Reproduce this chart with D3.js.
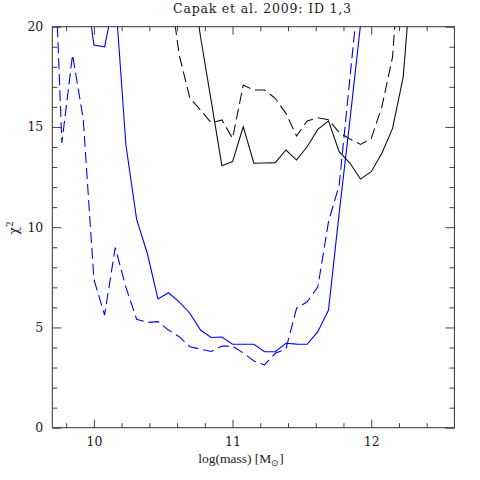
<!DOCTYPE html>
<html>
<head>
<meta charset="utf-8">
<script src="https://cdn.jsdelivr.net/npm/d3@7"></script>
<style>
  html, body { margin: 0; padding: 0; background: #fff; }
  svg { display: block; }
  text { font-family: "DejaVu Serif", "Liberation Serif", serif; fill: #222; }
</style>
</head>
<body>
<svg id="chart" width="480" height="480"></svg>
<script>
// log(mass) grid shared by all four curves
var massGrid = [9.692, 9.769, 9.846, 9.923, 10.0, 10.077, 10.154, 10.231, 10.308, 10.385,
  10.462, 10.538, 10.615, 10.692, 10.769, 10.846, 10.923, 11.0, 11.077, 11.154,
  11.231, 11.308, 11.385, 11.462, 11.538, 11.615, 11.692, 11.769, 11.846, 11.923,
  12.0, 12.077, 12.154, 12.231, 12.308];

var chi2BlueSolid = [35, 30, 26, 23, 19.09, 19.0, 21.6, 14.1, 10.4, 8.7,
  6.42, 6.73, 6.28, 5.71, 4.87, 4.5, 4.52, 4.16, 4.16, 4.16,
  3.79, 3.79, 4.21, 4.17, 4.16, 4.79, 5.87, 10.7, 15.3, 20.1,
  25, null, null, null, null];

var chi2BlueDashed = [28, 14.2, 18.6, 15.4, 7.4, 5.62, 8.98, 7.0, 5.41, 5.25,
  5.29, 4.87, 4.54, 4.04, 3.92, 3.8, 4.07, 4.07, 3.73, 3.33,
  3.13, 3.71, 3.93, 5.96, 6.28, 7.02, 10.27, 12.1, 17.4, 22.7,
  null, null, null, null, null];

var chi2BlackSolid = [null, null, null, null, null, null, null, null, null, null,
  null, null, null, 23.2, 19.5, 16.3, 13.07, 13.27, 15.01, 13.19,
  13.2, 13.22, 13.85, 13.35, 14.01, 14.88, 15.3, 13.77, 13.2, 12.4,
  12.77, 13.69, 14.93, 17.5, 24.2];

var chi2BlackDashed = [null, null, null, null, null, null, null, null, null, null,
  null, 22.5, 18.6, 16.44, 15.85, 15.2, 15.35, 14.43, 17.09, 16.84,
  16.84, 16.43, 15.68, 14.55, 15.3, 15.46, 15.36, 14.72, 14.4, 14.13,
  14.42, 16.01, 18.49, 26, null];

var xMajorTicks = [10, 11, 12];
var xMinorTicks = [9.8, 10.2, 10.4, 10.6, 10.8, 11.2, 11.4, 11.6, 11.8, 12.2, 12.4];
var yMajorTicks = [0, 5, 10, 15, 20];
var yMinorTicks = [1, 2, 3, 4, 6, 7, 8, 9, 11, 12, 13, 14, 16, 17, 18, 19];

var titleText = 'Capak et al. 2009: ID 1,3';

(function () {
    var plotLeft = 52.3, plotRight = 454.4, plotTop = 26.7, plotBottom = 427.7;

    var svg = d3.select('#chart');

    var x = d3.scaleLinear().domain([9.7, 12.6]).range([plotLeft, plotRight]);
    var y = d3.scaleLinear().domain([0, 20]).range([plotBottom, plotTop]);

    svg.append('defs').append('clipPath')
        .attr('id', 'plotClip')
      .append('rect')
        .attr('x', plotLeft).attr('y', plotTop)
        .attr('width', plotRight - plotLeft).attr('height', plotBottom - plotTop);

    // axes, ticks pointing inwards on all four sides
    function styleAxis(g) {
        g.select('.domain').remove();
        g.selectAll('line').attr('stroke', '#444').attr('stroke-width', 1);
        g.selectAll('text')
            .style('font-family', '"DejaVu Serif", serif')
            .style('font-size', '12.5px')
            .attr('fill', '#222');
    }

    svg.append('g').attr('transform', 'translate(0,' + plotBottom + ')')
        .call(d3.axisBottom(x).tickValues(xMajorTicks).tickSize(-8).tickPadding(9).tickFormat(d3.format('d')))
        .call(styleAxis);
    svg.append('g').attr('transform', 'translate(0,' + plotBottom + ')')
        .call(d3.axisBottom(x).tickValues(xMinorTicks).tickSize(-4.5).tickFormat(''))
        .call(styleAxis);
    svg.append('g').attr('transform', 'translate(0,' + plotTop + ')')
        .call(d3.axisTop(x).tickValues(xMajorTicks).tickSize(-8).tickFormat(''))
        .call(styleAxis);
    svg.append('g').attr('transform', 'translate(0,' + plotTop + ')')
        .call(d3.axisTop(x).tickValues(xMinorTicks).tickSize(-4.5).tickFormat(''))
        .call(styleAxis);

    svg.append('g').attr('transform', 'translate(' + plotLeft + ',0)')
        .call(d3.axisLeft(y).tickValues(yMajorTicks).tickSize(-9).tickPadding(9).tickFormat(d3.format('d')))
        .call(styleAxis);
    svg.append('g').attr('transform', 'translate(' + plotLeft + ',0)')
        .call(d3.axisLeft(y).tickValues(yMinorTicks).tickSize(-5).tickFormat(''))
        .call(styleAxis);
    svg.append('g').attr('transform', 'translate(' + plotRight + ',0)')
        .call(d3.axisRight(y).tickValues(yMajorTicks).tickSize(-9).tickFormat(''))
        .call(styleAxis);
    svg.append('g').attr('transform', 'translate(' + plotRight + ',0)')
        .call(d3.axisRight(y).tickValues(yMinorTicks).tickSize(-5).tickFormat(''))
        .call(styleAxis);

    svg.append('rect')
        .attr('x', plotLeft).attr('y', plotTop)
        .attr('width', plotRight - plotLeft).attr('height', plotBottom - plotTop)
        .attr('fill', 'none')
        .attr('stroke', '#333')
        .attr('stroke-width', 1);

    var curves = [
        { values: chi2BlueSolid, color: '#0000ff', dash: null },
        { values: chi2BlueDashed, color: '#0000ff', dash: '11,5' },
        { values: chi2BlackSolid, color: '#111', dash: null },
        { values: chi2BlackDashed, color: '#111', dash: '11,5' }
    ];

    var drawLine = d3.line()
        .defined(function (d) { return d[1] != null; })
        .x(function (d) { return x(d[0]); })
        .y(function (d) { return y(d[1]); });

    svg.append('g')
        .attr('clip-path', 'url(#plotClip)')
      .selectAll('path')
        .data(curves)
      .enter().append('path')
        .attr('d', function (c) {
            return drawLine(massGrid.map(function (m, i) { return [m, c.values[i]]; }));
        })
        .attr('fill', 'none')
        .attr('stroke', function (c) { return c.color; })
        .attr('stroke-width', 1.1)
        .attr('stroke-dasharray', function (c) { return c.dash; });

    // title and axis labels
    svg.append('text')
        .attr('x', 262)
        .attr('y', 12.5)
        .attr('text-anchor', 'middle')
        .attr('textLength', 178)
        .attr('lengthAdjust', 'spacing')
        .style('font-size', '12.5px')
        .text(titleText);

    var xlab = svg.append('text')
        .attr('x', 241)
        .attr('y', 463)
        .attr('text-anchor', 'middle')
        .style('font-family', '"Liberation Serif", serif')
        .style('font-size', '13.5px');
    xlab.append('tspan').text('log(mass) [M');
    xlab.append('tspan').attr('dy', 3).style('font-size', '8.5px').text('\u2299');
    xlab.append('tspan').attr('dy', -3).text(']');

    var ylab = svg.append('text')
        .attr('transform', 'translate(18,228) rotate(-90)')
        .attr('text-anchor', 'middle')
        .style('font-size', '13px');
    ylab.append('tspan').text('\u03c7');
    ylab.append('tspan').attr('dy', -5).style('font-size', '8.5px').text('2');
})();
</script>
</body>
</html>
